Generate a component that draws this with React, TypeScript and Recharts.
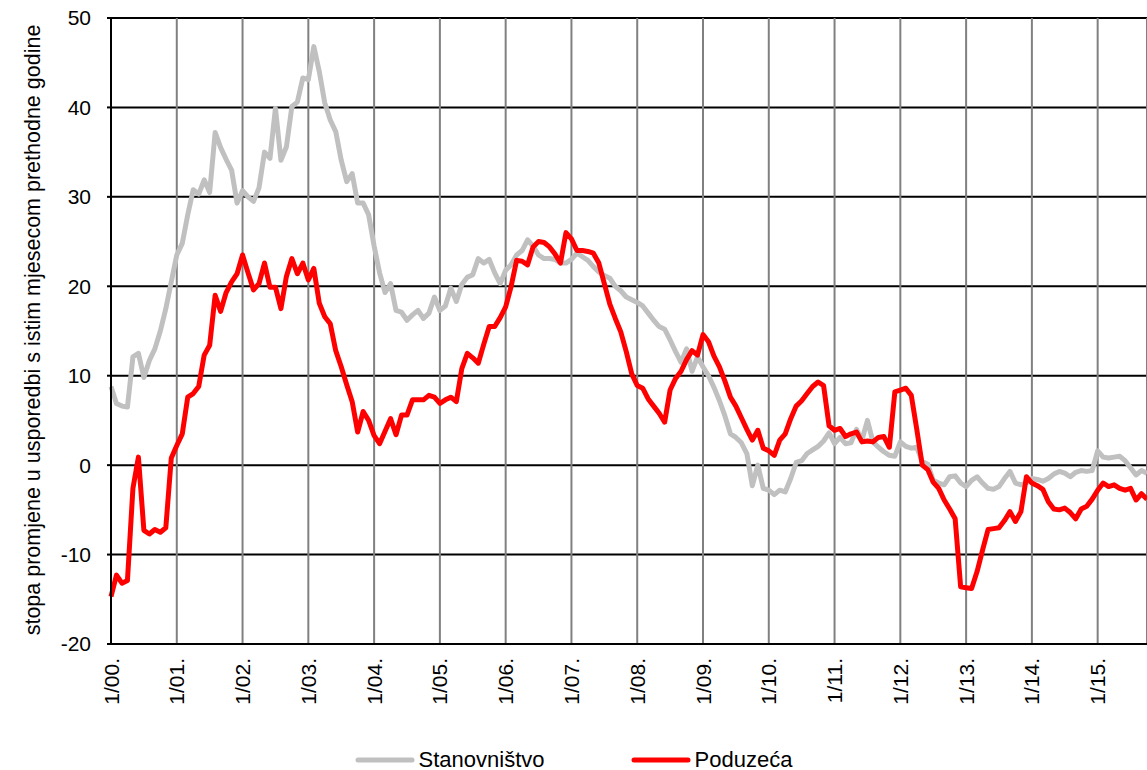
import { LineChart, Line, XAxis, YAxis, CartesianGrid, Legend } from "recharts";

const FONT = '"Liberation Sans", Arial, sans-serif';

const yearTicks = [0, 12, 24, 36, 48, 60, 72, 84, 96, 108, 120, 132, 144, 156, 168, 180];
const yearLabels = [
  "1/00.", "1/01.", "1/02.", "1/03.", "1/04.", "1/05.", "1/06.", "1/07.",
  "1/08.", "1/09.", "1/10.", "1/11.", "1/12.", "1/13.", "1/14.", "1/15.",
];
const valueTicks = [-20, -10, 0, 10, 20, 30, 40, 50];

// monthly, from 1/2000
const stanovnistvo = [
  8.8, 6.9, 6.6, 6.5, 12.1, 12.5, 9.8, 11.7, 13.0, 15.0, 17.5, 20.5,
  23.5, 24.8, 28.0, 30.8, 30.3, 31.9, 30.5, 37.2, 35.5, 34.2, 33.0, 29.3,
  30.7, 30.0, 29.5, 31.0, 35.0, 34.3, 39.9, 34.1, 35.6, 40.1, 40.6, 43.3,
  43.1, 46.8, 44.0, 40.5, 38.6, 37.3, 34.1, 31.7, 32.6, 29.3, 29.3, 28.0,
  24.5, 21.5, 19.3, 20.3, 17.3, 17.1, 16.2, 16.8, 17.3, 16.4, 17.0, 18.8,
  17.3, 17.8, 19.8, 18.3, 20.2, 21.0, 21.3, 23.1, 22.6, 23.0, 21.5, 20.3,
  21.8, 22.4, 23.5, 24.0, 25.2, 24.5, 23.5, 23.1, 23.1, 23.0, 22.6, 22.6,
  23.0, 23.7, 23.3, 22.9, 22.2, 21.6, 21.2, 20.9, 20.0, 19.5, 18.8, 18.5,
  18.2, 17.8, 17.0, 16.2, 15.5, 15.2, 14.0, 12.7, 11.5, 13.0, 10.5, 12.1,
  11.0, 10.0, 8.7, 7.2, 5.5, 3.5, 3.1, 2.5, 1.3, -2.3, 0.0, -2.6,
  -2.8, -3.3, -2.8, -3.0, -1.5, 0.3, 0.5, 1.3, 1.7, 2.1, 2.7, 3.6,
  2.4, 3.1, 2.4, 2.5, 4.0, 2.8, 5.0, 2.6, 2.0, 1.5, 1.1, 1.0,
  2.6, 2.1, 1.9, 2.0, 0.4, 0.1, -1.7, -2.0, -2.2, -1.3, -1.2, -2.0,
  -2.4, -1.7, -1.3, -2.0, -2.6, -2.7, -2.4, -1.5, -0.7, -2.0, -2.2, -2.0,
  -1.5, -1.6, -1.8, -1.5, -1.0, -0.7, -0.9, -1.3, -0.8, -0.6, -0.7, -0.6,
  1.6, 0.9, 0.8, 0.9, 1.0, 0.5, -0.3, -1.1, -0.6, -0.9,
];

const poduzeca = [
  -14.7, -12.3, -13.2, -12.9, -2.6, 0.9, -7.3, -7.7, -7.2, -7.5, -7.0, 0.8,
  2.2, 3.5, 7.6, 8.0, 8.8, 12.3, 13.4, 19.0, 17.2, 19.3, 20.5, 21.4,
  23.5, 21.5, 19.6, 20.3, 22.6, 19.9, 19.9, 17.5, 21.1, 23.1, 21.4, 22.6,
  20.7, 22.0, 18.1, 16.6, 15.8, 12.8, 11.0, 9.0, 7.1, 3.7, 6.0, 5.0,
  3.3, 2.4, 3.8, 5.2, 3.4, 5.6, 5.6, 7.3, 7.3, 7.3, 7.8, 7.6,
  6.9, 7.3, 7.6, 7.1, 10.8, 12.5, 12.0, 11.4, 13.5, 15.5, 15.5, 16.5,
  17.7, 20.0, 22.9, 22.8, 22.4, 24.4, 25.0, 24.9, 24.4, 23.6, 22.6, 26.0,
  25.3, 24.0, 24.0, 23.9, 23.7, 22.6, 20.3, 18.0, 16.4, 14.9, 12.7, 10.2,
  8.9, 8.6, 7.4, 6.6, 5.8, 4.8, 8.4, 9.7, 10.5, 11.8, 12.8, 12.3,
  14.6, 13.8, 12.2, 11.0, 9.4, 7.6, 6.6, 5.3, 4.0, 2.8, 3.9, 1.9,
  1.6, 1.1, 2.8, 3.5, 5.2, 6.6, 7.2, 8.0, 8.8, 9.3, 8.9, 4.4,
  3.9, 4.1, 3.2, 3.5, 3.7, 2.6, 2.7, 2.6, 3.1, 3.2, 2.0, 8.2,
  8.4, 8.6, 7.8, 4.0, 0.0, -0.5, -1.9, -2.6, -3.9, -4.9, -6.0, -13.6,
  -13.7, -13.8, -11.9, -9.5, -7.2, -7.1, -7.0, -6.2, -5.2, -6.3, -5.2, -1.3,
  -2.0, -2.3, -2.7, -4.1, -4.9, -5.0, -4.8, -5.3, -6.0, -4.9, -4.6, -3.8,
  -2.8, -2.0, -2.4, -2.2, -2.6, -2.8, -2.6, -3.9, -3.2, -3.8,
];

const seriesNames = ["Stanovništvo", "Poduzeća"];
const seriesColors = ["#c0c0c0", "#ff0000"];

const data = stanovnistvo.map((v, i) => ({ m: i, s: v, p: poduzeca[i] }));

function XTick({ x, y, payload }: any) {
  const idx = yearTicks.indexOf(payload.value);
  return (
    <g transform={`translate(${x},${y})`}>
      <text
        transform="rotate(-90)"
        x={-6}
        dy="0.36em"
        textAnchor="end"
        fill="#000"
        fontSize={21}
        fontFamily={FONT}
      >
        {yearLabels[idx]}
      </text>
    </g>
  );
}

function LegendBox() {
  return (
    <div
      style={{
        display: "flex",
        justifyContent: "center",
        gap: 86,
        fontFamily: FONT,
        fontSize: 22,
        height: 20,
        alignItems: "center",
      }}
    >
      {seriesNames.map((n, i) => (
        <div key={n} style={{ display: "flex", alignItems: "center" }}>
          <svg width={60} height={8} style={{ marginRight: 4 }}>
            <line x1={3} y1={4} x2={57} y2={4} stroke={seriesColors[i]} strokeWidth={5} strokeLinecap="round" />
          </svg>
          <span>{n}</span>
        </div>
      ))}
    </div>
  );
}

export default function App() {
  return (
    <div style={{ position: "absolute", left: 0, top: 0, background: "#fff" }}>
      <LineChart width={1147} height={770} data={data} margin={{ top: 18, right: 0, left: 0, bottom: 0 }}>
        <CartesianGrid horizontal vertical={false} stroke="#000" strokeWidth={2} />
        <CartesianGrid horizontal={false} vertical stroke="#808080" strokeWidth={2} />
        <XAxis
          dataKey="m"
          type="number"
          domain={[0, 189]}
          ticks={yearTicks}
          interval={0}
          tick={<XTick />}
          tickLine={false}
          tickSize={0}
          tickMargin={8}
          height={106}
          axisLine={{ stroke: "#000", strokeWidth: 2 }}
        />
        <YAxis
          domain={[-20, 50]}
          ticks={valueTicks}
          interval={0}
          width={111}
          tickSize={4}
          tickMargin={16}
          tickLine={{ stroke: "#000", strokeWidth: 2 }}
          axisLine={{ stroke: "#000", strokeWidth: 2 }}
          tick={{ fill: "#000", fontSize: 21, fontFamily: FONT }}
          label={{
            content: () => (
              <text
                transform="translate(33,330) rotate(-90)"
                textAnchor="middle"
                dominantBaseline="central"
                fill="#000"
                fontSize={21.5}
                fontFamily={FONT}
              >
                stopa promjene u usporedbi s istim mjesecom prethodne godine
              </text>
            ),
          }}
        />
        <Legend
          verticalAlign="bottom"
          content={<LegendBox />}
          wrapperStyle={{ left: 0, width: 1147, bottom: 0 }}
        />
        <Line
          dataKey="s"
          name={seriesNames[0]}
          stroke={seriesColors[0]}
          strokeWidth={5}
          dot={false}
          activeDot={false}
          type="linear"
          strokeLinejoin="round"
          isAnimationActive={false}
        />
        <Line
          dataKey="p"
          name={seriesNames[1]}
          stroke={seriesColors[1]}
          strokeWidth={5}
          dot={false}
          activeDot={false}
          type="linear"
          strokeLinejoin="round"
          isAnimationActive={false}
        />
      </LineChart>
    </div>
  );
}
